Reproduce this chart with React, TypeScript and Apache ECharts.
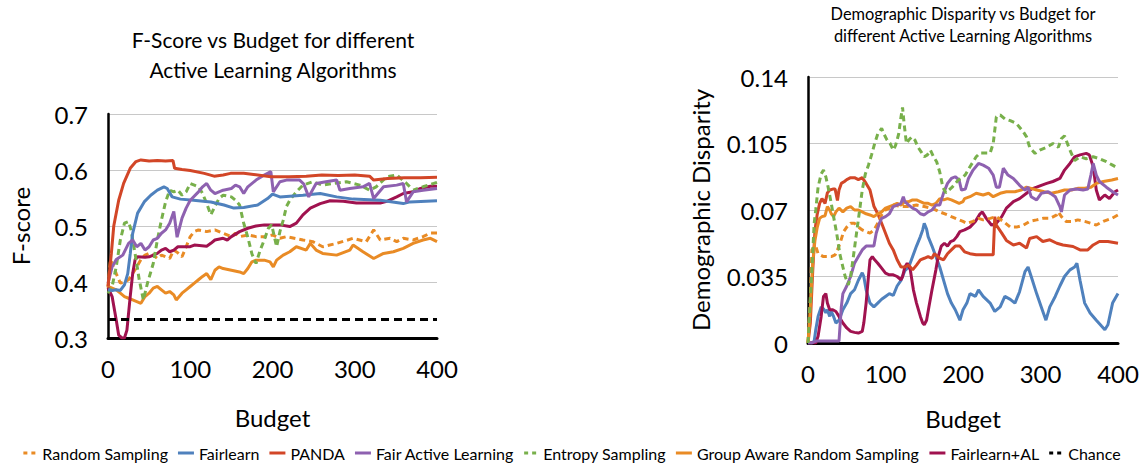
import React, { useEffect, useRef } from "react";
import * as echarts from "echarts";

type Pt = [number, number];

const FONT = 'Lato, "DejaVu Sans", sans-serif';

// Series names, in legend order
const NAMES = [
  "Random Sampling",
  "Fairlearn",
  "PANDA",
  "Fair Active Learning",
  "Entropy Sampling",
  "Group Aware Random Sampling",
  "Fairlearn+AL",
  "Chance",
];

// Axis ticks
const budgetTicks = { min: 0, max: 400, step: 100 };
const fTicks = { min: 0.3, max: 0.7, step: 0.1 };
const dTicks = { min: 0, max: 0.14, step: 0.035 };

// ---------- F-score vs budget ----------
const fRandom: Pt[] = [
  [0, 0.39], [3, 0.44], [5, 0.433], [10, 0.415], [15, 0.398], [20, 0.4], [25, 0.404], [30, 0.415],
  [35, 0.427], [40, 0.44], [45, 0.448], [50, 0.451], [55, 0.448], [60, 0.442], [65, 0.448], [70, 0.445],
  [75, 0.442], [80, 0.457], [85, 0.452], [90, 0.445], [95, 0.463], [100, 0.481], [105, 0.49], [110, 0.493],
  [120, 0.49], [130, 0.493], [140, 0.487], [150, 0.481], [155, 0.487], [160, 0.481], [170, 0.484],
  [180, 0.481], [190, 0.481], [200, 0.484], [209, 0.478], [217, 0.481], [237, 0.475], [249, 0.472],
  [261, 0.463], [278, 0.469], [298, 0.478], [314, 0.472], [323, 0.493], [331, 0.475], [343, 0.478],
  [351, 0.472], [359, 0.478], [371, 0.475], [383, 0.481], [392, 0.4875], [400, 0.4875],
];
const fFairlearn: Pt[] = [
  [0, 0.386], [5, 0.385], [10, 0.386], [15, 0.385], [20, 0.395], [24, 0.415], [27, 0.45], [30, 0.487],
  [36, 0.523], [44, 0.543], [52, 0.555], [60, 0.564], [68, 0.57], [72, 0.567], [78, 0.552], [88, 0.548],
  [104, 0.546], [125, 0.543], [141, 0.5375], [153, 0.532], [165, 0.533], [182, 0.5375], [194, 0.549],
  [200, 0.557], [209, 0.552], [237, 0.555], [258, 0.558], [278, 0.552], [298, 0.548], [331, 0.546],
  [359, 0.54], [367, 0.543], [400, 0.545],
];
const fPanda: Pt[] = [
  [0, 0.392], [4, 0.45], [7, 0.5], [13, 0.546], [19, 0.576], [27, 0.603], [34, 0.615], [40, 0.618],
  [50, 0.616], [60, 0.617], [70, 0.616], [79, 0.617], [81, 0.603], [90, 0.601], [100, 0.599], [117, 0.594],
  [129, 0.589], [140, 0.591], [149, 0.594], [165, 0.594], [177, 0.592], [198, 0.588], [220, 0.588],
  [241, 0.589], [260, 0.591], [280, 0.59], [300, 0.591], [318, 0.589], [323, 0.582], [340, 0.585],
  [360, 0.586], [380, 0.586], [400, 0.587],
];
const fFairAL: Pt[] = [
  [0, 0.398], [5, 0.427], [10, 0.44], [18, 0.448], [25, 0.469], [30, 0.475], [35, 0.463], [40, 0.469],
  [45, 0.457], [50, 0.463], [55, 0.475], [60, 0.478], [65, 0.487], [70, 0.493], [75, 0.505], [80, 0.526],
  [84, 0.48], [90, 0.514], [95, 0.532], [100, 0.546], [110, 0.561], [115, 0.57], [120, 0.576], [125, 0.564],
  [130, 0.558], [140, 0.564], [150, 0.567], [155, 0.573], [160, 0.57], [165, 0.558], [170, 0.57],
  [180, 0.582], [190, 0.591], [198, 0.597], [201, 0.561], [209, 0.579], [217, 0.582], [233, 0.582],
  [238, 0.575], [244, 0.552], [253, 0.576], [265, 0.579], [278, 0.582], [282, 0.564], [294, 0.567],
  [310, 0.57], [318, 0.576], [323, 0.549], [335, 0.57], [351, 0.573], [359, 0.576], [363, 0.543],
  [371, 0.561], [383, 0.564], [400, 0.567],
];
const fEntropy: Pt[] = [
  [0, 0.38], [5, 0.392], [10, 0.427], [15, 0.475], [20, 0.505], [25, 0.508], [28, 0.493], [33, 0.45],
  [38, 0.404], [43, 0.368], [48, 0.398], [55, 0.433], [60, 0.475], [65, 0.511], [70, 0.543], [75, 0.564],
  [80, 0.561], [85, 0.564], [90, 0.555], [95, 0.561], [100, 0.576], [105, 0.573], [110, 0.57], [115, 0.558],
  [120, 0.54], [125, 0.52], [130, 0.535], [135, 0.549], [140, 0.555], [150, 0.552], [155, 0.546],
  [160, 0.5375], [165, 0.505], [170, 0.48], [175, 0.45], [180, 0.433], [185, 0.457], [190, 0.475],
  [195, 0.496], [199, 0.502], [205, 0.463], [209, 0.49], [213, 0.51], [217, 0.535], [221, 0.546],
  [229, 0.561], [237, 0.573], [249, 0.579], [261, 0.573], [274, 0.576], [290, 0.579], [306, 0.573],
  [318, 0.564], [326, 0.57], [339, 0.588], [351, 0.591], [363, 0.576], [371, 0.564], [383, 0.57],
  [396, 0.576], [400, 0.578],
];
const fGroupAware: Pt[] = [
  [0, 0.392], [5, 0.389], [10, 0.386], [15, 0.38], [20, 0.374], [25, 0.371], [30, 0.368], [35, 0.365],
  [40, 0.362], [45, 0.374], [50, 0.38], [55, 0.389], [60, 0.392], [65, 0.386], [70, 0.38], [75, 0.383],
  [80, 0.377], [83, 0.368], [90, 0.38], [95, 0.386], [100, 0.392], [105, 0.398], [110, 0.404], [115, 0.41],
  [120, 0.415], [125, 0.404], [130, 0.421], [135, 0.427], [140, 0.424], [150, 0.421], [160, 0.418],
  [165, 0.415], [170, 0.424], [175, 0.436], [180, 0.439], [190, 0.439], [197, 0.436], [201, 0.427],
  [205, 0.439], [213, 0.448], [221, 0.454], [229, 0.463], [241, 0.457], [246, 0.469], [253, 0.457],
  [261, 0.451], [278, 0.448], [294, 0.457], [298, 0.466], [310, 0.454], [323, 0.442], [335, 0.451],
  [347, 0.454], [359, 0.46], [371, 0.469], [383, 0.475], [392, 0.478], [400, 0.472],
];
const fFairlearnAL: Pt[] = [
  [0, 0.39], [5, 0.374], [10, 0.332], [13, 0.305], [17, 0.3], [20, 0.3], [23, 0.314], [27, 0.374],
  [30, 0.415], [33, 0.44], [36, 0.445], [45, 0.444], [50, 0.445], [55, 0.448], [60, 0.451], [65, 0.457],
  [70, 0.46], [75, 0.454], [80, 0.457], [85, 0.463], [100, 0.463], [105, 0.466], [120, 0.464], [125, 0.469],
  [130, 0.475], [140, 0.478], [145, 0.475], [150, 0.481], [160, 0.49], [170, 0.496], [180, 0.5], [190, 0.502],
  [209, 0.502], [221, 0.499], [229, 0.505], [237, 0.52], [246, 0.532], [258, 0.54], [270, 0.545],
  [286, 0.544], [302, 0.541], [331, 0.541], [339, 0.544], [351, 0.552], [359, 0.558], [371, 0.561],
  [380, 0.567], [392, 0.571], [400, 0.571],
];
const fChance: Pt[] = [[0, 0.333], [400, 0.333]];

// ---------- Demographic disparity vs budget ----------
const dRandom: Pt[] = [
  [0, 0], [3, 0.0228], [5, 0.049], [10, 0.051], [13, 0.047], [20, 0.0455], [30, 0.0455], [35, 0.0464],
  [38, 0.049], [42, 0.0534], [46, 0.0586], [50, 0.061], [55, 0.063], [60, 0.063], [65, 0.061], [70, 0.0595],
  [75, 0.0586], [80, 0.0578], [85, 0.0595], [90, 0.063], [95, 0.0674], [100, 0.07], [105, 0.0709],
  [110, 0.0726], [120, 0.0718], [130, 0.0718], [140, 0.0726], [150, 0.0718], [160, 0.0709], [170, 0.069],
  [180, 0.0674], [185, 0.0665], [195, 0.0648], [200, 0.064], [205, 0.063], [213, 0.064], [220, 0.0656],
  [226, 0.0648], [235, 0.0656], [243, 0.0665], [252, 0.064], [261, 0.061], [269, 0.061], [278, 0.062],
  [286, 0.064], [295, 0.0648], [303, 0.0656], [312, 0.0656], [321, 0.0674], [323, 0.069], [327, 0.0665],
  [333, 0.064], [342, 0.064], [348, 0.0648], [357, 0.064], [365, 0.063], [372, 0.0621], [381, 0.064],
  [392, 0.0656], [400, 0.0674],
];
const dFairlearn: Pt[] = [
  [0, 0], [5, 0], [8, 0.001], [10, 0.007], [13, 0.014], [17, 0.019], [20, 0.018], [23, 0.016], [25, 0.0175],
  [28, 0.014], [30, 0.0166], [33, 0.014], [36, 0.0105], [40, 0.012], [45, 0.0175], [50, 0.021], [55, 0.026],
  [60, 0.028], [65, 0.033], [70, 0.037], [72, 0.035], [75, 0.028], [80, 0.021], [85, 0.019], [90, 0.021],
  [95, 0.023], [100, 0.0245], [105, 0.026], [110, 0.025], [115, 0.03], [120, 0.033], [125, 0.038],
  [130, 0.04], [135, 0.0455], [140, 0.051], [145, 0.056], [148, 0.0595], [150, 0.063], [153, 0.06],
  [155, 0.056], [160, 0.051], [165, 0.0455], [170, 0.04], [175, 0.033], [180, 0.026], [185, 0.021],
  [190, 0.0175], [196, 0.012], [200, 0.0175], [205, 0.021], [209, 0.026], [216, 0.0245], [220, 0.028],
  [226, 0.0245], [235, 0.021], [241, 0.0166], [248, 0.019], [254, 0.0245], [261, 0.023], [267, 0.021],
  [273, 0.027], [280, 0.0376], [284, 0.04], [288, 0.035], [295, 0.026], [301, 0.019], [307, 0.012],
  [312, 0.019], [319, 0.0245], [325, 0.03], [331, 0.035], [338, 0.0385], [344, 0.04], [347, 0.042],
  [351, 0.033], [357, 0.021], [364, 0.0158], [372, 0.012], [379, 0.0088], [383, 0.007], [387, 0.0096],
  [393, 0.021], [400, 0.026],
];
const dPanda: Pt[] = [
  [0, 0], [3, 0.0105], [6, 0.037], [9, 0.0595], [12, 0.068], [15, 0.0735], [18, 0.076], [22, 0.0735],
  [25, 0.079], [28, 0.0805], [32, 0.081], [35, 0.081], [38, 0.075], [40, 0.0805], [43, 0.084], [47, 0.085],
  [50, 0.086], [55, 0.087], [60, 0.087], [65, 0.086], [70, 0.087], [75, 0.084], [80, 0.0805], [85, 0.072],
  [90, 0.068], [95, 0.063], [100, 0.0578], [105, 0.0525], [110, 0.049], [115, 0.0438], [120, 0.04],
  [125, 0.04], [130, 0.041], [135, 0.0385], [140, 0.041], [145, 0.0438], [150, 0.0446], [155, 0.0455],
  [160, 0.0446], [163, 0.047], [170, 0.0446], [175, 0.0438], [180, 0.047], [185, 0.049], [190, 0.051],
  [196, 0.051], [202, 0.048], [209, 0.047], [217, 0.0464], [230, 0.0464], [239, 0.0464], [241, 0.0665],
  [243, 0.062], [250, 0.0578], [256, 0.054], [265, 0.0516], [273, 0.0525], [282, 0.05], [286, 0.055],
  [295, 0.056], [303, 0.0534], [312, 0.0543], [321, 0.0525], [329, 0.0516], [342, 0.0508], [351, 0.049],
  [361, 0.049], [368, 0.0516], [376, 0.0534], [387, 0.0534], [400, 0.0525],
];
const dFairAL: Pt[] = [
  [0, 0], [5, 0], [10, 0.001], [40, 0.001], [43, 0.019], [45, 0.026], [50, 0.03], [55, 0.035], [60, 0.042],
  [65, 0.0455], [70, 0.049], [75, 0.051], [85, 0.051], [88, 0.0578], [92, 0.063], [95, 0.0656], [100, 0.0665],
  [105, 0.068], [110, 0.0718], [115, 0.0726], [120, 0.0735], [123, 0.077], [125, 0.0744], [130, 0.0726],
  [135, 0.071], [140, 0.07], [145, 0.068], [150, 0.0674], [155, 0.069], [160, 0.07], [165, 0.0726],
  [170, 0.0726], [175, 0.079], [180, 0.084], [185, 0.0866], [190, 0.0875], [195, 0.0858], [198, 0.0805],
  [203, 0.081], [207, 0.0866], [213, 0.091], [220, 0.0945], [226, 0.0936], [233, 0.092], [239, 0.0884],
  [243, 0.082], [247, 0.082], [252, 0.092], [258, 0.0884], [265, 0.0866], [273, 0.083], [280, 0.0805],
  [284, 0.082], [288, 0.077], [295, 0.0753], [301, 0.0788], [310, 0.0796], [319, 0.077], [325, 0.0718],
  [327, 0.069], [331, 0.0779], [338, 0.0805], [346, 0.081], [355, 0.0805], [361, 0.081], [365, 0.0884],
  [368, 0.0945], [372, 0.0884], [376, 0.085], [385, 0.082], [393, 0.0796], [400, 0.0779],
];
const dEntropy: Pt[] = [
  [0, 0], [5, 0.0385], [8, 0.063], [10, 0.07], [13, 0.082], [17, 0.089], [20, 0.091], [23, 0.0875],
  [26, 0.082], [30, 0.0735], [33, 0.0665], [37, 0.0578], [41, 0.047], [45, 0.04], [48, 0.035], [52, 0.0306],
  [55, 0.035], [58, 0.0438], [62, 0.056], [66, 0.068], [70, 0.0805], [74, 0.089], [78, 0.0936], [82, 0.099],
  [86, 0.105], [90, 0.11], [95, 0.113], [98, 0.11], [102, 0.1068], [106, 0.105], [110, 0.1015], [113, 0.104],
  [117, 0.11], [120, 0.119], [122, 0.124], [124, 0.1155], [127, 0.105], [130, 0.1068], [134, 0.1085],
  [138, 0.1068], [142, 0.103], [146, 0.1006], [150, 0.098], [154, 0.099], [158, 0.1015], [162, 0.098],
  [166, 0.0954], [170, 0.09], [174, 0.082], [178, 0.079], [182, 0.0805], [186, 0.082], [190, 0.084],
  [194, 0.0858], [198, 0.0866], [203, 0.0885], [209, 0.0928], [217, 0.098], [222, 0.1], [235, 0.1],
  [239, 0.105], [243, 0.119], [248, 0.12], [254, 0.118], [261, 0.117], [269, 0.1155], [278, 0.111],
  [282, 0.1085], [286, 0.103], [293, 0.0998], [299, 0.1015], [308, 0.103], [316, 0.105], [323, 0.103],
  [327, 0.1076], [331, 0.109], [338, 0.1015], [344, 0.096], [351, 0.098], [359, 0.097], [368, 0.098],
  [376, 0.097], [385, 0.0954], [393, 0.0936], [400, 0.092],
];
const dGroupAware: Pt[] = [
  [0, 0], [3, 0.019], [6, 0.042], [9, 0.054], [12, 0.061], [15, 0.0656], [18, 0.0665], [22, 0.067],
  [25, 0.0718], [28, 0.07], [30, 0.068], [33, 0.0665], [36, 0.069], [40, 0.071], [45, 0.069], [50, 0.071],
  [55, 0.0718], [60, 0.07], [65, 0.07], [70, 0.069], [75, 0.068], [80, 0.0674], [85, 0.0665], [90, 0.068],
  [95, 0.069], [100, 0.071], [105, 0.0718], [110, 0.0726], [115, 0.0735], [120, 0.0726], [125, 0.0744],
  [130, 0.0744], [135, 0.0753], [140, 0.0753], [145, 0.0744], [150, 0.0735], [155, 0.0735], [160, 0.0726],
  [165, 0.0735], [170, 0.076], [175, 0.0753], [180, 0.076], [185, 0.0753], [190, 0.0744], [195, 0.0735],
  [200, 0.0744], [202, 0.076], [209, 0.077], [217, 0.0788], [226, 0.0779], [233, 0.0788], [239, 0.077],
  [248, 0.0788], [256, 0.0796], [267, 0.0796], [275, 0.0805], [282, 0.082], [288, 0.0814], [295, 0.0805],
  [305, 0.0796], [314, 0.0788], [323, 0.0796], [331, 0.0805], [340, 0.0805], [348, 0.0814], [357, 0.0814],
  [365, 0.082], [372, 0.084], [381, 0.085], [392, 0.0858], [400, 0.0866],
];
const dFairlearnAL: Pt[] = [
  [0, 0], [10, 0], [13, 0.0035], [17, 0.014], [20, 0.0245], [23, 0.026], [25, 0.021], [28, 0.0175],
  [32, 0.0175], [36, 0.0166], [40, 0.014], [45, 0.0105], [50, 0.0079], [55, 0.0061], [60, 0.0056],
  [65, 0.00525], [70, 0.0061], [72, 0.0105], [75, 0.021], [78, 0.035], [80, 0.0438], [83, 0.0455],
  [86, 0.0438], [90, 0.042], [95, 0.0394], [100, 0.0368], [105, 0.0359], [110, 0.0359], [115, 0.035],
  [120, 0.0333], [122, 0.035], [125, 0.04], [128, 0.042], [132, 0.0385], [136, 0.028], [140, 0.021],
  [145, 0.014], [148, 0.0105], [150, 0.0096], [153, 0.012], [156, 0.019], [160, 0.028], [165, 0.0385],
  [168, 0.0455], [172, 0.051], [176, 0.0525], [180, 0.051], [184, 0.0534], [188, 0.054], [192, 0.056],
  [196, 0.0586], [202, 0.0595], [209, 0.061], [216, 0.064], [222, 0.068], [225, 0.069], [230, 0.0656],
  [237, 0.062], [243, 0.063], [250, 0.0665], [256, 0.071], [265, 0.0744], [273, 0.076], [282, 0.0788],
  [288, 0.081], [295, 0.082], [301, 0.083], [308, 0.084], [316, 0.085], [325, 0.0866], [331, 0.091],
  [338, 0.0945], [344, 0.098], [351, 0.099], [359, 0.0998], [363, 0.099], [368, 0.0928], [372, 0.0805],
  [376, 0.0753], [383, 0.0779], [389, 0.076], [396, 0.0796], [400, 0.0805],
];

// Colours and dash styles per algorithm
const STYLE: Record<string, { color: string; dash?: number[] }> = {
  "Random Sampling": { color: "#E98B25", dash: [6, 4] },
  Fairlearn: { color: "#4F81BD" },
  PANDA: { color: "#D24627" },
  "Fair Active Learning": { color: "#8E61B0" },
  "Entropy Sampling": { color: "#78B04B", dash: [6, 4] },
  "Group Aware Random Sampling": { color: "#E98B25" },
  "Fairlearn+AL": { color: "#A0124F" },
  Chance: { color: "#000000", dash: [8, 5] },
};

// Legend swatches: a bar for solid lines, two short squares for dashed ones
const SOLID_ICON = "path://M0,0H16V3H0Z";
const DASH_ICON = "path://M0,0H4V3H0Z M8,0H12V3H8Z";

function line(name: string, data: Pt[], axis: number) {
  const s = STYLE[name];
  return {
    type: "line",
    name,
    data,
    xAxisIndex: axis,
    yAxisIndex: axis,
    symbol: "none",
    showSymbol: false,
    lineStyle: { color: s.color, width: 3, type: s.dash ?? "solid" },
    itemStyle: { color: s.color },
    emphasis: { disabled: true },
  };
}

const axisText = { color: "#000", fontFamily: FONT, fontSize: 24 };

function xAxis(gridIndex: number, nameGap: number) {
  return {
    type: "value",
    gridIndex,
    min: budgetTicks.min,
    max: budgetTicks.max,
    interval: budgetTicks.step,
    name: "Budget",
    nameLocation: "middle",
    nameGap,
    nameTextStyle: axisText,
    axisLine: { show: true, lineStyle: { color: "#000", width: 3 } },
    axisTick: { show: false },
    splitLine: { show: false },
    axisLabel: { ...axisText, margin: 18 },
  };
}

function yAxis(gridIndex: number, t: { min: number; max: number; step: number }, name: string, nameGap: number) {
  return {
    type: "value",
    gridIndex,
    min: t.min,
    max: t.max,
    interval: t.step,
    name,
    nameLocation: "middle",
    nameGap,
    nameTextStyle: axisText,
    axisLine: { show: true, lineStyle: { color: "#000", width: 2.5 } },
    axisTick: { show: false },
    splitLine: { show: true, lineStyle: { color: "#C8C8C8", width: 1 } },
    axisLabel: {
      ...axisText,
      margin: 20,
      formatter: (v: number) => String(Math.round(v * 1000) / 1000),
    },
  };
}

const option = {
  animation: false,
  backgroundColor: "#ffffff",
  title: [
    {
      text: "F-Score vs Budget for different\nActive Learning Algorithms",
      left: 273,
      top: 24,
      textAlign: "center",
      padding: 0,
      textStyle: { fontFamily: FONT, fontSize: 21, fontWeight: "normal", color: "#000", lineHeight: 30 },
    },
    {
      text: "Demographic Disparity vs Budget for\ndifferent Active Learning Algorithms",
      left: 963,
      top: 2,
      textAlign: "center",
      padding: 0,
      textStyle: { fontFamily: FONT, fontSize: 16.4, fontWeight: "normal", color: "#000", lineHeight: 22 },
    },
  ],
  legend: {
    data: NAMES.map((n) => ({ name: n, icon: STYLE[n].dash ? DASH_ICON : SOLID_ICON })),
    left: "center",
    top: 440,
    itemWidth: 16,
    itemHeight: 3,
    itemGap: 10,
    textStyle: { fontFamily: FONT, fontSize: 16, color: "#000" },
  },
  grid: [
    { left: 108, top: 114, width: 329, height: 224 },
    { left: 808, top: 77, width: 310, height: 266 },
  ],
  xAxis: [xAxis(0, 67), xAxis(1, 63)],
  yAxis: [yAxis(0, fTicks, "F-score", 76), yAxis(1, dTicks, "Demographic Disparity", 96)],
  series: [
    line("Group Aware Random Sampling", fGroupAware, 0),
    line("Random Sampling", fRandom, 0),
    line("Fairlearn+AL", fFairlearnAL, 0),
    line("Entropy Sampling", fEntropy, 0),
    line("Fairlearn", fFairlearn, 0),
    line("Fair Active Learning", fFairAL, 0),
    line("PANDA", fPanda, 0),
    line("Chance", fChance, 0),
    line("Fairlearn", dFairlearn, 1),
    line("Fairlearn+AL", dFairlearnAL, 1),
    line("PANDA", dPanda, 1),
    line("Random Sampling", dRandom, 1),
    line("Group Aware Random Sampling", dGroupAware, 1),
    line("Fair Active Learning", dFairAL, 1),
    line("Entropy Sampling", dEntropy, 1),
  ],
};

export default function App() {
  const ref = useRef<HTMLDivElement>(null);
  useEffect(() => {
    if (!ref.current) return;
    const chart = echarts.init(ref.current, null, { renderer: "svg" });
    chart.setOption(option as any);
    return () => chart.dispose();
  }, []);
  return (
    <div
      ref={ref}
      style={{ position: "absolute", left: 0, top: 0, width: 1144, height: 465, background: "#fff" }}
    />
  );
}
